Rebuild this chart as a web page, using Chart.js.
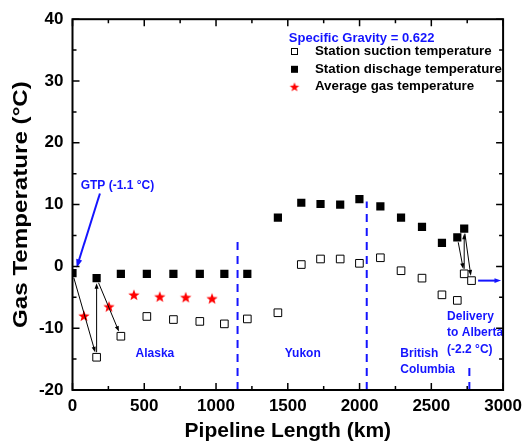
<!DOCTYPE html>
<html>
<head>
<meta charset="utf-8">
<script src="https://cdn.jsdelivr.net/npm/chart.js@4"></script>
<style>
  html, body { margin: 0; padding: 0; background: #fff; }
  #wrap { width: 528px; height: 444px; }
</style>
</head>
<body>
<div id="wrap"><canvas id="gasChart" width="528" height="444"></canvas></div>
<script>
// ---- data ----
const suctionX = [168, 337, 518, 703, 887, 1058, 1218, 1431, 1594, 1728, 1865, 1999, 2145, 2289, 2435, 2574, 2681, 2729, 2780];
const suctionY = [-14.7, -11.3, -8.1, -8.6, -8.9, -9.3, -8.5, -7.5, 0.3, 1.2, 1.2, 0.5, 1.4, -0.7, -1.9, -4.6, -5.5, -1.2, -2.3];
const dischargeX = [0, 168, 337, 518, 703, 887, 1058, 1218, 1431, 1594, 1728, 1865, 1999, 2145, 2289, 2435, 2574, 2681, 2729];
const dischargeY = [-1.1, -1.9, -1.2, -1.2, -1.2, -1.2, -1.2, -1.2, 7.9, 10.3, 10.1, 10.0, 10.9, 9.7, 7.9, 6.4, 3.8, 4.7, 6.1];
const avgX = [80, 254, 428, 608, 789, 972];
const avgY = [-8.0, -6.5, -4.6, -4.9, -5.0, -5.2];

const seriesLabels = ['Station suction temperature', 'Station dischage temperature', 'Average gas temperature'];
const xTicks = [0, 500, 1000, 1500, 2000, 2500, 3000];
const yTicks = [-20, -10, 0, 10, 20, 30, 40];

// province borders (km) and how high each dashed line reaches (°C)
const borderKm = [1150, 2050, 2765];
const borderTop = [4.5, 10.5, -16];

// black arrows between stations: [fromSeries, fromIndex, toSeries, toIndex]  (0 = suction, 1 = discharge)
const stationArrows = [
    [1, 0, 0, 0], [0, 0, 1, 1], [1, 1, 0, 1],
    [1, 17, 0, 17], [0, 17, 1, 18], [1, 18, 0, 18]
];

// region / note labels, anchored in data units
const notes = [
    { lines: ['Alaska'], x: 574, y: -14.1, align: 'center', gap: 16 },
    { lines: ['Yukon'], x: 1604, y: -14.1, align: 'center', gap: 16 },
    { lines: ['British', 'Columbia'], x: 2284, y: -14.1, align: 'left', gap: 16 },
    { lines: ['Delivery', 'to Alberta', '(-2.2 \u00B0C)'], x: 2610, y: -8.1, align: 'left', gap: 16.5 },
    { lines: ['GTP (-1.1 \u00B0C)'], x: 57, y: 13.0, align: 'left', gap: 16 }
];
const gravityNote = { text: 'Specific Gravity = 0.622', x: 1507, y: 36.9 };
const gtpArrow = [[191, 11.8], [29, -0.2]];
const deliveryArrow = [[2826, -2.3], [2986, -2.3]];

const BLUE = '#1414ff';
const FONT = '"Liberation Sans", Arial, sans-serif';

function toPts(xs, ys) { return xs.map((x, i) => ({ x: x, y: ys[i] })); }

// filled red star used for the average temperature points
function makeStar(r, color) {
    const c = document.createElement('canvas');
    const s = Math.ceil(r * 2 + 2);
    c.width = s; c.height = s;
    const g = c.getContext('2d');
    g.fillStyle = color;
    g.beginPath();
    for (let i = 0; i < 10; i++) {
        const rad = i % 2 === 0 ? r : r * 0.42;
        const a = -Math.PI / 2 + i * Math.PI / 5;
        const px = s / 2 + rad * Math.cos(a), py = s / 2 + 0.5 + rad * Math.sin(a);
        if (i === 0) g.moveTo(px, py); else g.lineTo(px, py);
    }
    g.closePath();
    g.fill();
    return c;
}
const starImg = makeStar(6, '#ff0000');
const starSmall = makeStar(5, '#ff0000');

function arrow(ctx, x1, y1, x2, y2, color, width, head) {
    const a = Math.atan2(y2 - y1, x2 - x1);
    ctx.save();
    ctx.strokeStyle = color; ctx.fillStyle = color; ctx.lineWidth = width;
    ctx.beginPath(); ctx.moveTo(x1, y1);
    ctx.lineTo(x2 - Math.cos(a) * head * 0.8, y2 - Math.sin(a) * head * 0.8);
    ctx.stroke();
    ctx.beginPath();
    ctx.moveTo(x2, y2);
    ctx.lineTo(x2 - head * Math.cos(a - 0.35), y2 - head * Math.sin(a - 0.35));
    ctx.lineTo(x2 - head * Math.cos(a + 0.35), y2 - head * Math.sin(a + 0.35));
    ctx.closePath(); ctx.fill();
    ctx.restore();
}

const decorPlugin = {
    id: 'decor',
    beforeDatasetsDraw(chart) {
        const ctx = chart.ctx, xs = chart.scales.x, ys = chart.scales.y;
        // dashed province borders
        ctx.save();
        ctx.strokeStyle = BLUE; ctx.lineWidth = 2; ctx.setLineDash([8, 6]);
        borderKm.forEach((k, i) => {
            const px = xs.getPixelForValue(k);
            ctx.beginPath();
            ctx.moveTo(px, ys.getPixelForValue(-20));
            ctx.lineTo(px, ys.getPixelForValue(borderTop[i]));
            ctx.stroke();
        });
        ctx.restore();
    },
    afterDatasetsDraw(chart) {
        const ctx = chart.ctx, xs = chart.scales.x, ys = chart.scales.y;
        const a = chart.chartArea;
        const series = [[suctionX, suctionY], [dischargeX, dischargeY]];

        // station arrows
        stationArrows.forEach(([s1, i1, s2, i2]) => {
            const x1 = xs.getPixelForValue(series[s1][0][i1]), y1 = ys.getPixelForValue(series[s1][1][i1]);
            const x2 = xs.getPixelForValue(series[s2][0][i2]), y2 = ys.getPixelForValue(series[s2][1][i2]);
            const d = Math.hypot(x2 - x1, y2 - y1);
            const ux = (x2 - x1) / d, uy = (y2 - y1) / d;
            arrow(ctx, x1 + ux * 5, y1 + uy * 5, x2 - ux * 5, y2 - uy * 5, '#000', 1, 6);
        });

        // blue arrows
        arrow(ctx, xs.getPixelForValue(gtpArrow[0][0]), ys.getPixelForValue(gtpArrow[0][1]),
            xs.getPixelForValue(gtpArrow[1][0]), ys.getPixelForValue(gtpArrow[1][1]), BLUE, 2, 9);
        arrow(ctx, xs.getPixelForValue(deliveryArrow[0][0]), ys.getPixelForValue(deliveryArrow[0][1]),
            xs.getPixelForValue(deliveryArrow[1][0]), ys.getPixelForValue(deliveryArrow[1][1]), BLUE, 2, 7);

        // notes
        ctx.save();
        ctx.fillStyle = BLUE;
        ctx.font = 'bold 12px ' + FONT;
        ctx.textBaseline = 'middle';
        notes.forEach(n => {
            ctx.textAlign = n.align;
            const px = xs.getPixelForValue(n.x);
            const py = ys.getPixelForValue(n.y);
            n.lines.forEach((ln, j) => ctx.fillText(ln, px, py + j * n.gap));
        });
        ctx.font = 'bold 13px ' + FONT;
        ctx.textAlign = 'left';
        ctx.fillText(gravityNote.text, xs.getPixelForValue(gravityNote.x), ys.getPixelForValue(gravityNote.y));
        ctx.restore();

        // legend
        ctx.save();
        ctx.font = 'bold 13.3px ' + FONT;
        ctx.textBaseline = 'middle';
        ctx.fillStyle = '#000';
        const lx = 294.5, ly = [51.5, 69.3, 86.8];
        seriesLabels.forEach((lab, i) => ctx.fillText(lab, 315, ly[i]));
        ctx.lineWidth = 1; ctx.strokeStyle = '#000';
        ctx.fillStyle = '#fff';
        ctx.fillRect(lx - 3, ly[0] - 3, 6, 6); ctx.strokeRect(lx - 3, ly[0] - 3, 6, 6);
        ctx.fillStyle = '#000';
        ctx.fillRect(lx - 3.5, ly[1] - 3.5, 7, 7);
        ctx.drawImage(starSmall, lx - starSmall.width / 2, ly[2] - starSmall.height / 2);
        ctx.restore();

        // frame with inward ticks
        ctx.save();
        ctx.strokeStyle = '#000'; ctx.lineWidth = 2;
        ctx.strokeRect(a.left, a.top, a.right - a.left, a.bottom - a.top);
        ctx.lineWidth = 1.5;
        ctx.beginPath();
        for (let v = 0; v <= 3000; v += 250) {
            const px = xs.getPixelForValue(v), len = v % 500 === 0 ? 7 : 4;
            ctx.moveTo(px, a.bottom); ctx.lineTo(px, a.bottom - len);
            ctx.moveTo(px, a.top); ctx.lineTo(px, a.top + len);
        }
        for (let v = -20; v <= 40; v += 5) {
            const py = ys.getPixelForValue(v), len = v % 10 === 0 ? 7 : 4;
            ctx.moveTo(a.left, py); ctx.lineTo(a.left + len, py);
            ctx.moveTo(a.right, py); ctx.lineTo(a.right - len, py);
        }
        ctx.stroke();
        ctx.restore();

        // y axis title (the original is a little stretched along its length)
        ctx.save();
        ctx.translate(21, (a.top + a.bottom) / 2);
        ctx.rotate(-Math.PI / 2);
        ctx.scale(1.15, 1);
        ctx.font = 'bold 21px ' + FONT;
        ctx.fillStyle = '#000';
        ctx.textAlign = 'center';
        ctx.textBaseline = 'middle';
        ctx.fillText('Gas Temperature (\u00B0C)', 0, 0);
        ctx.restore();
    }
};

new Chart(document.getElementById('gasChart'), {
    type: 'scatter',
    data: {
        datasets: [
            {
                label: seriesLabels[0],
                data: toPts(suctionX, suctionY),
                pointStyle: 'rect',
                pointRadius: 5.4,
                backgroundColor: '#fff',
                borderColor: '#000',
                borderWidth: 1
            },
            {
                label: seriesLabels[1],
                data: toPts(dischargeX, dischargeY),
                pointStyle: 'rect',
                pointRadius: 5.8,
                backgroundColor: '#000',
                borderColor: '#000',
                borderWidth: 0
            },
            {
                label: seriesLabels[2],
                data: toPts(avgX, avgY),
                pointStyle: starImg,
                pointRadius: 6
            }
        ]
    },
    options: {
        responsive: false,
        animation: false,
        layout: { padding: { top: 13, right: 24, left: 0, bottom: 0 } },
        plugins: { legend: { display: false }, tooltip: { enabled: false } },
        scales: {
            x: {
                type: 'linear',
                min: 0, max: 3000,
                afterBuildTicks: s => { s.ticks = xTicks.map(v => ({ value: v })); },
                afterFit: s => { s.height = 54; },
                grid: { display: false, drawTicks: false, tickLength: 0 },
                border: { display: false },
                ticks: {
                    color: '#000', font: { family: FONT, size: 17, weight: 'bold' }, padding: 6, maxRotation: 0,
                    callback: v => String(v)
                },
                title: { display: true, text: 'Pipeline Length (km)', color: '#000', font: { family: FONT, size: 21, weight: 'bold' }, padding: { top: 0, bottom: 0 } }
            },
            y: {
                type: 'linear',
                min: -20, max: 40,
                afterBuildTicks: s => { s.ticks = yTicks.map(v => ({ value: v })); },
                afterFit: s => { s.width = 72.5; },
                grid: { display: false, drawTicks: false, tickLength: 0 },
                border: { display: false },
                ticks: {
                    color: '#000', font: { family: FONT, size: 17, weight: 'bold' }, padding: 9,
                    callback: v => String(v)
                },
                title: { display: false }
            }
        }
    },
    plugins: [decorPlugin]
});
</script>
</body>
</html>
